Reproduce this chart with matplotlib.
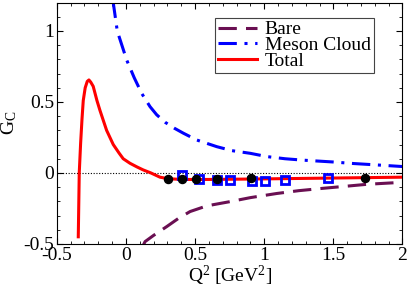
import matplotlib
matplotlib.use('Agg')
import matplotlib.pyplot as plt
from matplotlib.ticker import MultipleLocator

plt.rcParams['font.family'] = ['Liberation Serif', 'DejaVu Serif']
plt.rcParams['mathtext.fontset'] = 'custom'
plt.rcParams['mathtext.rm'] = 'Liberation Serif'
plt.rcParams['mathtext.it'] = 'Liberation Serif:italic'

# curves
bare_x = [0.12, 0.138, 0.2, 0.295, 0.38, 0.464, 0.585, 0.754, 0.9, 1.09, 1.25, 1.43, 1.6, 1.745, 2.0]
bare_y = [-0.52, -0.484, -0.44, -0.378, -0.32, -0.272, -0.232, -0.202, -0.174, -0.145, -0.125, -0.108, -0.093, -0.08, -0.066]

meson_x = [-0.095, -0.063, 0.005, 0.06, 0.114, 0.174, 0.222, 0.283, 0.35, 0.415, 0.512, 0.657, 0.766, 0.9, 1.02, 1.15, 1.28, 1.5, 1.65, 1.82, 2.0]
meson_y = [1.22, 1.0, 0.796, 0.67, 0.56, 0.467, 0.41, 0.357, 0.315, 0.28, 0.232, 0.185, 0.157, 0.138, 0.115, 0.10, 0.09, 0.077, 0.066, 0.056, 0.045]

total_x = [-0.345, -0.338, -0.328, -0.318, -0.309, -0.295, -0.28, -0.268, -0.255, -0.237, -0.21, -0.188, -0.14, -0.092, -0.05, -0.02, 0.029, 0.08, 0.125, 0.18, 0.246, 0.3, 0.4, 0.6, 0.8, 1.0, 1.5, 2.0]
total_y = [-0.45, 0.0, 0.21, 0.38, 0.51, 0.60, 0.645, 0.655, 0.64, 0.61, 0.51, 0.44, 0.30, 0.20, 0.14, 0.10, 0.068, 0.042, 0.021, 0.0, -0.03, -0.04, -0.046, -0.046, -0.044, -0.042, -0.036, -0.03]

# data points
sq_x = [0.404, 0.531, 0.657, 0.754, 0.91, 1.007, 1.152, 1.459]
sq_y = [-0.014, -0.045, -0.049, -0.049, -0.056, -0.054, -0.049, -0.037]
dot_x = [0.307, 0.404, 0.507, 0.657, 0.906, 1.727]
dot_y = [-0.045, -0.042, -0.045, -0.042, -0.035, -0.037]

fig = plt.figure(figsize=(4.09, 2.90), dpi=100)
ax = fig.add_axes([0.139, 0.159, 0.845, 0.832])

ax.axhline(0, color='black', lw=0.8, ls=(0, (1, 1.5)), zorder=1)
ax.plot(bare_x, bare_y, color='#6a0f52', lw=2.2, dashes=(6, 3), label='Bare', zorder=2)
ax.plot(meson_x, meson_y, color='#0000ff', lw=2.2, dashes=(6, 2.5, 1, 2.5), label='Meson Cloud', zorder=2)
ax.plot(total_x, total_y, color='#ff0000', lw=2.2, label='Total', zorder=3)
ax.plot(sq_x, sq_y, 's', ms=5.5, mfc='none', mec='#0000ff', mew=2, zorder=4)
ax.plot(dot_x, dot_y, 'o', ms=5.8, color='black', zorder=5)

ax.set_xlim(-0.5, 2)
ax.set_ylim(-0.5, 1.2)
ax.xaxis.set_major_locator(MultipleLocator(0.5))
ax.xaxis.set_minor_locator(MultipleLocator(0.1))
ax.yaxis.set_major_locator(MultipleLocator(0.5))
ax.yaxis.set_minor_locator(MultipleLocator(0.1))
ax.tick_params(which='both', direction='in', top=True, right=True, labelsize=14)
ax.tick_params(which='major', length=4)
ax.tick_params(which='minor', length=2.2)
ax.tick_params(axis='x', pad=2)
ax.tick_params(axis='y', pad=2)
ax.xaxis.set_major_formatter(plt.FuncFormatter(lambda v, p: '%g' % v))
ax.yaxis.set_major_formatter(plt.FuncFormatter(lambda v, p: '%g' % v))

ax.set_xlabel('Q$^2$ [GeV$^2$]', fontsize=14, labelpad=0)
ax.set_ylabel('G$_\\mathrm{C}$', fontsize=14, labelpad=3)

leg = ax.legend(loc='upper right', bbox_to_anchor=(0.917, 0.937), fontsize=14,
                handlelength=2.0, labelspacing=-0.1, borderpad=0.15, handletextpad=0.4,
                fancybox=False, framealpha=1, borderaxespad=0)
leg.get_frame().set_edgecolor('#444444')
leg.get_frame().set_linewidth(0.8)

fig.savefig('out.png', dpi=100)
